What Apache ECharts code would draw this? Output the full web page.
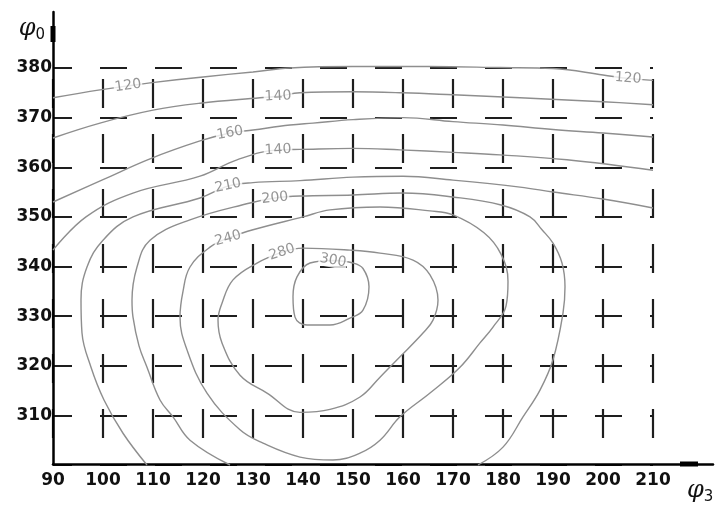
<!DOCTYPE html>
<html><head><meta charset="utf-8">
<script src="https://cdn.jsdelivr.net/npm/echarts@6/dist/echarts.min.js"></script>
<style>html,body{margin:0;padding:0;background:#fff}#c{width:721px;height:505px}</style>
</head><body><div id="c"></div>
<script>
// ---- data ----
const xTicks = [90,100,110,120,130,140,150,160,170,180,190,200,210];
const yTicks = [300,310,320,330,340,350,360,370,380];

const contour120 = [[90,374.0],[99.4,375.6],[105,376.4],[109.4,377.0],[120,378.2],[130,379.2],[137.4,380.0],[150,380.3],[165,380.3],[179.4,380.1],[190,379.9],[200,378.6],[205,377.9],[210,377.5]];
const contour140 = [[90,365.9],[99.4,368.9],[110,371.5],[119.4,372.9],[131.4,374.0],[135,374.3],[139.4,375.0],[150,375.2],[160,375.0],[170,374.6],[183.4,374.0],[200,373.2],[210,372.6]];
const contour160 = [[90,353.0],[100,357.5],[109.4,361.7],[119.4,365.3],[125.4,366.9],[130,367.5],[137.4,368.5],[142,368.9],[150,369.6],[160,370.0],[170,369.2],[180,368.5],[190,367.6],[200,366.9],[210,366.1]];
const contour140b = [[90,343.3],[96.6,350.0],[106,354.8],[119.4,358.2],[126.8,361.5],[135,363.5],[139.4,363.6],[150,363.8],[159.4,363.5],[170,363.0],[179.4,362.5],[192.8,361.5],[210,359.4]];
const contour210 = [[210,351.8],[200,353.6],[190,355.0],[183.4,356.0],[170,357.4],[160,358.2],[150,358.0],[139.4,357.3],[130,356.9],[125,356.2],[119.4,353.8],[106,350.0],[100,345.3],[96.8,339.9],[95.6,333.3],[95.8,326.6],[97.6,319.7],[100.2,313.1],[104,306.4],[108.8,300]];
const contour200 = [[125.4,300],[117.4,305.0],[114,309.7],[111.4,313.1],[108.8,319.7],[107.2,324.0],[106,329.8],[105.8,333.2],[106.8,339.9],[109.4,345.3],[117.4,349.4],[129.4,352.8],[134.4,353.8],[139.4,354.2],[150,354.4],[160,354.8],[170,354.0],[179.6,352.4],[185.4,350.0],[187.8,347.4],[190,344.7],[191.8,340.7],[192.4,335.9],[192,330.6],[190,321.2],[187.4,315.1],[184,309.7],[180,303.6],[175,300]];
const contour240 = [[125,345.7],[130,347.4],[140,350.0],[145.4,351.4],[155.4,352.0],[165.4,351.2],[170,350.4],[176.2,346.8],[179.6,342.5],[181,337],[180.6,332],[178,327.8],[175.4,324.6],[171.4,319.7],[165.4,314.5],[159.4,309.7],[155.4,305.0],[151.4,302.4],[146,301.0],[139.4,301.6],[132,304.4],[127.4,307.1],[120.8,314.5],[116.8,323.2],[115.4,329.8],[116,335],[117.4,339.9],[121.4,343.9],[125,345.7]];
const contour280 = [[135.8,342.9],[140,343.7],[149.4,343.3],[155.4,342.7],[162,341.3],[165.4,338.3],[167,333.2],[166,329.2],[164,326.6],[159.4,321.8],[155.4,317.7],[151.4,313.7],[145.4,311.2],[139.4,310.6],[132.8,314.5],[127.4,318.1],[123.8,324.6],[123,329.2],[123.8,332.6],[126,337.3],[130.8,340.7],[135.8,342.9]];
const contour300 = [[146,341.2],[141.4,340.7],[138.8,337.9],[138,333.9],[138.4,329.8],[140.8,328.2],[145.4,328.2],[149.4,329.6],[152,331.2],[153.2,335.9],[152,339.6],[150,340.7],[146,341.2]];

const contourLabels = ['120','140','160','140','210','200','240','280','300','120'];
const contourLabelPoints = [[105,376.4],[135,374.3],[125.4,366.9],[135,363.5],[125,356.3],[134.4,353.8],[125,345.7],[135.8,342.9],[146,341.2],[205,377.9]];
const contourLabelAngles = [8,3,10,3,12,6,15,18,-10,-4];

// ---- chart ----
const contours = [contour120, contour140, contour160, contour140b, contour210, contour200, contour240, contour280, contour300];
const chart = echarts.init(document.getElementById('c'), null, {renderer: 'canvas'});
const lineSeries = contours.map(d => ({
  type: 'line', xAxisIndex: 0, yAxisIndex: 0, data: d, showSymbol: false, smooth: 0.4,
  clip: false, silent: true, z: 3,
  lineStyle: {color: '#8e8e8e', width: 1.4}
}));
const tickFmt = (ticks) => (v) => { const i = ticks.indexOf(Math.round(v)); return i >= 0 ? String(ticks[i]) : ''; };

chart.setOption({
  animation: false,
  backgroundColor: '#fff',
  grid: [
    {left: 53, right: 68, top: 68, bottom: 40},
    {left: 53, right: 8, top: 12, bottom: 40}
  ],
  xAxis: [
    {gridIndex: 0, type: 'value', min: 90, max: 210, interval: 10,
     axisLine: {show: false}, axisTick: {show: false},
     axisLabel: {margin: 7, color: '#111', fontSize: 17, fontWeight: 'bold', fontFamily: 'DejaVu Sans', formatter: tickFmt(xTicks)},
     splitLine: {show: true, lineStyle: {color: '#1e1e1e', width: 2.2, type: [29, 26], dashOffset: 44}}},
    {gridIndex: 1, type: 'value', min: 90, max: 222,
     axisLine: {show: true, onZero: false, lineStyle: {color: '#000', width: 2.5}, symbol: ['none', 'rect'], symbolSize: [5, 18], symbolOffset: [0, -24]},
     axisTick: {show: false}, axisLabel: {show: false}, splitLine: {show: false},
     name: '{p|φ}{s|3}', nameLocation: 'end', nameGap: -26,
     nameTextStyle: {align: 'left', verticalAlign: 'top', padding: [12, 0, 0, 0],
       rich: {p: {fontFamily: 'DejaVu Serif', fontStyle: 'italic', fontSize: 24, color: '#111'},
              s: {fontFamily: 'DejaVu Sans', fontSize: 15, color: '#111', padding: [14, 0, 0, 0]}}}}
  ],
  yAxis: [
    {gridIndex: 0, type: 'value', min: 300, max: 380, interval: 10,
     axisLine: {show: false}, axisTick: {show: false},
     axisLabel: {margin: 1, showMinLabel: false, color: '#111', fontSize: 17, fontWeight: 'bold', fontFamily: 'DejaVu Sans', formatter: tickFmt(yTicks)},
     splitLine: {show: true, lineStyle: {color: '#1e1e1e', width: 2.2, type: [27, 28], dashOffset: 8}}},
    {gridIndex: 1, type: 'value', min: 300, max: 391.3,
     axisLine: {show: true, onZero: false, lineStyle: {color: '#000', width: 2.5}, symbol: ['none', 'rect'], symbolSize: [5, 16], symbolOffset: [0, -22]},
     axisTick: {show: false}, axisLabel: {show: false}, splitLine: {show: false},
     name: '{p|φ}{s|0}', nameLocation: 'end', nameGap: -2,
     nameTextStyle: {align: 'right', verticalAlign: 'top', padding: [0, 8, 0, 0],
       rich: {p: {fontFamily: 'DejaVu Serif', fontStyle: 'italic', fontSize: 24, color: '#111'},
              s: {fontFamily: 'DejaVu Sans', fontSize: 15, color: '#111', padding: [14, 0, 0, 0]}}}}
  ],
  series: lineSeries.concat([{
    type: 'scatter', xAxisIndex: 0, yAxisIndex: 0, symbolSize: 1, silent: true, z: 10,
    itemStyle: {color: 'rgba(0,0,0,0)'},
    data: contourLabelPoints.map((p, i) => ({value: p, label: {rotate: contourLabelAngles[i]}})),
    label: {show: true, position: 'inside', formatter: (p) => contourLabels[p.dataIndex],
      color: '#7a7a7a', fontSize: 14, fontFamily: 'DejaVu Sans', backgroundColor: '#fff', padding: [0, 1]}
  }])
});
</script>
</body></html>
